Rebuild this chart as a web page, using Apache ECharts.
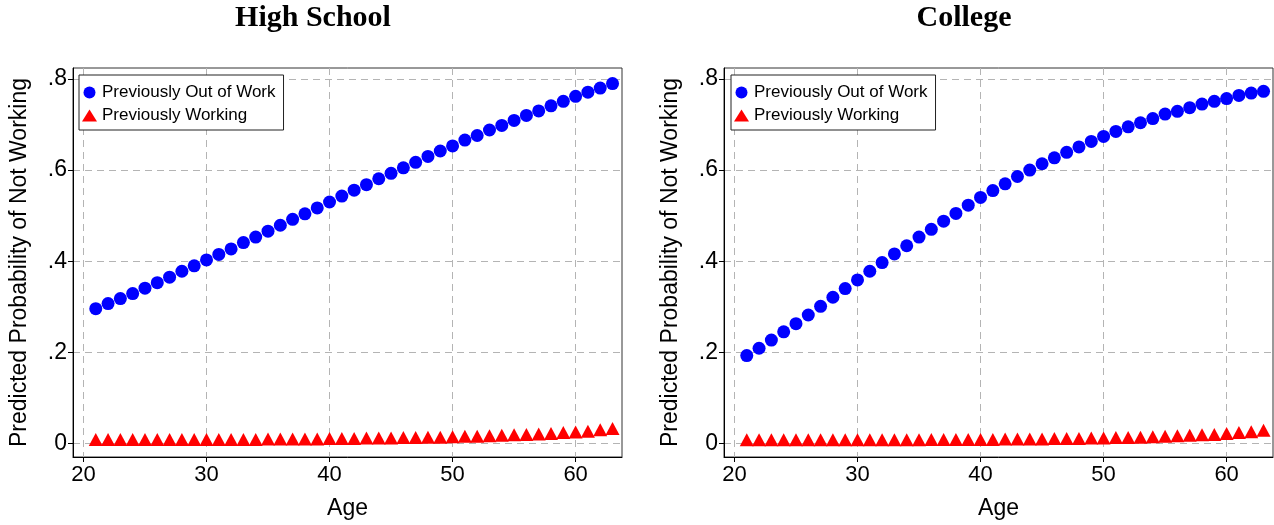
<!DOCTYPE html>
<html>
<head>
<meta charset="utf-8">
<script src="https://cdn.jsdelivr.net/npm/echarts@6/dist/echarts.min.js"></script>
<style>
  html, body { margin: 0; padding: 0; background: #fff; }
  #main { width: 1274px; height: 525px; }
</style>
</head>
<body>
<div id="main"></div>
<script>
var ages = [21, 22, 23, 24, 25, 26, 27, 28, 29, 30,
            31, 32, 33, 34, 35, 36, 37, 38, 39, 40,
            41, 42, 43, 44, 45, 46, 47, 48, 49, 50,
            51, 52, 53, 54, 55, 56, 57, 58, 59, 60,
            61, 62, 63];

// High School
var hsOutOfWork = [.296, .307, .318, .329, .341, .353, .365, .378, .390, .403,
                   .415, .427, .441, .453, .466, .479, .492, .504, .517, .530,
                   .543, .556, .568, .581, .593, .605, .617, .630, .642, .653,
                   .666, .676, .688, .698, .709, .720, .730, .741, .751, .762,
                   .771, .780, .790];
var hsWorking = [.009, .009, .009, .009, .009, .009, .009, .009, .009, .009,
                 .009, .009, .009, .009, .010, .010, .010, .010, .010, .011,
                 .011, .011, .012, .012, .012, .013, .013, .014, .014, .015,
                 .016, .016, .017, .018, .019, .020, .021, .022, .024, .025,
                 .027, .030, .033];

// College
var colOutOfWork = [.193, .209, .227, .245, .263, .282, .301, .321, .340, .359,
                    .378, .397, .416, .434, .453, .470, .488, .505, .523, .540,
                    .555, .570, .586, .600, .614, .627, .639, .651, .663, .674,
                    .685, .695, .704, .713, .723, .729, .737, .745, .751, .757,
                    .764, .769, .773];
var colWorking = [.008, .008, .008, .008, .008, .008, .008, .008, .008, .008,
                  .008, .008, .008, .008, .008, .009, .009, .009, .009, .009,
                  .009, .010, .010, .010, .010, .011, .011, .011, .012, .012,
                  .013, .013, .014, .015, .016, .017, .018, .019, .020, .022,
                  .024, .026, .029];

var xTicks = [20, 30, 40, 50, 60];
var yTicks = [0, 0.2, 0.4, 0.6, 0.8];
var yTickLabels = ['0', '.2', '.4', '.6', '.8'];

(function(){
  var chart = echarts.init(document.getElementById('main'));

  function pairs(xs, ys) {
    return xs.map(function (x, i) { return [x, ys[i]]; });
  }

  var gridLine = { show: true, lineStyle: { color: '#b4b4b4', type: [7, 5], width: 1 } };
  var font = 'Liberation Sans, Arial, sans-serif';

  function xAxis(idx) {
    return {
      type: 'value', gridIndex: idx, min: 19.15, max: 63.77,
      name: 'Age', nameLocation: 'middle', nameGap: 40,
      nameTextStyle: { fontSize: 23, color: '#000', fontFamily: font },
      axisLine: { show: true, onZero: false, lineStyle: { color: '#000', width: 1 } },
      axisTick: { show: true, length: 5, customValues: xTicks, lineStyle: { color: '#000' } },
      axisLabel: { customValues: xTicks, fontSize: 22, color: '#000', fontFamily: font, margin: 7 },
      splitLine: gridLine
    };
  }

  function yAxis(idx) {
    return {
      type: 'value', gridIndex: idx, min: -0.0296, max: 0.8241,
      name: 'Predicted Probability of Not Working', nameLocation: 'middle', nameGap: 42,
      nameTextStyle: { fontSize: 23, color: '#000', fontFamily: font },
      axisLine: { show: true, onZero: false, lineStyle: { color: '#000', width: 1 } },
      axisTick: { show: true, length: 5, customValues: yTicks, lineStyle: { color: '#000' } },
      axisLabel: {
        customValues: yTicks, fontSize: 23, color: '#000', fontFamily: font, margin: 6,
        formatter: function (v) {
          var i = yTicks.indexOf(Math.round(v * 10) / 10);
          return i >= 0 ? yTickLabels[i] : '';
        }
      },
      splitLine: gridLine
    };
  }

  function legend(left) {
    return {
      left: left, top: 75, orient: 'vertical',
      backgroundColor: '#fff', borderColor: '#222', borderWidth: 1, borderRadius: 0,
      padding: [9, 8, 6, 3],
      itemWidth: 15, itemHeight: 12, itemGap: 6,
      textStyle: { fontSize: 17, lineHeight: 17, color: '#000', fontFamily: font },
      data: [
        { name: 'Previously Out of Work', icon: 'circle' },
        { name: 'Previously Working', icon: 'triangle' }
      ],
      selectedMode: false
    };
  }

  var titleFont = { fontSize: 30, fontWeight: 'bold', color: '#000', fontFamily: 'Liberation Serif, Times New Roman, serif' };

  var option = {
    animation: false,
    title: [
      { text: 'High School', left: 308, top: -2, textAlign: 'center', textStyle: titleFont },
      { text: 'College', left: 959, top: -2, textAlign: 'center', textStyle: titleFont }
    ],
    legend: [legend(79), legend(731)],
    grid: [
      { left: 73, top: 68, width: 549, height: 389, show: true, borderColor: '#333', borderWidth: 1 },
      { left: 724, top: 68, width: 549, height: 389, show: true, borderColor: '#333', borderWidth: 1 }
    ],
    xAxis: [xAxis(0), xAxis(1)],
    yAxis: [yAxis(0), yAxis(1)],
    series: [
      { name: 'Previously Out of Work', type: 'scatter', xAxisIndex: 0, yAxisIndex: 0,
        symbol: 'circle', symbolSize: 13, itemStyle: { color: '#0000ff', opacity: 1 },
        data: pairs(ages, hsOutOfWork) },
      { name: 'Previously Working', type: 'scatter', xAxisIndex: 0, yAxisIndex: 0,
        symbol: 'triangle', symbolSize: [14, 13], itemStyle: { color: '#ff0000', opacity: 1 },
        data: pairs(ages, hsWorking) },
      { name: 'Previously Out of Work', type: 'scatter', xAxisIndex: 1, yAxisIndex: 1,
        symbol: 'circle', symbolSize: 13, itemStyle: { color: '#0000ff', opacity: 1 },
        data: pairs(ages, colOutOfWork) },
      { name: 'Previously Working', type: 'scatter', xAxisIndex: 1, yAxisIndex: 1,
        symbol: 'triangle', symbolSize: [14, 13], itemStyle: { color: '#ff0000', opacity: 1 },
        data: pairs(ages, colWorking) }
    ]
  };

  chart.setOption(option);
})()
</script>
</body>
</html>
